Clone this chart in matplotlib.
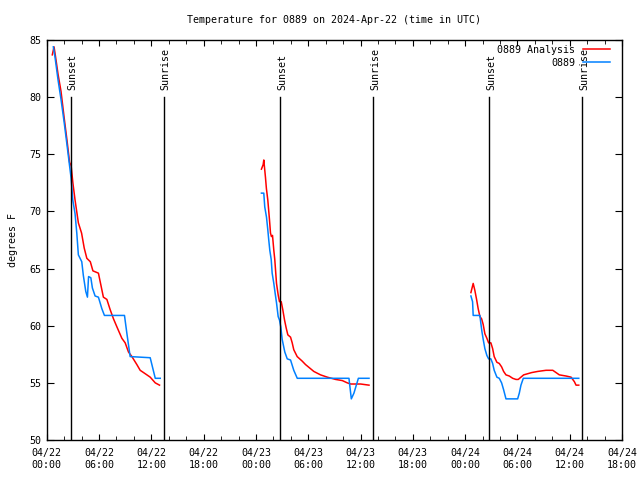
import matplotlib
matplotlib.use("Agg")
import matplotlib.pyplot as plt
from matplotlib.ticker import MultipleLocator

plt.rcParams['font.family'] = ['DejaVu Sans Mono']
plt.rcParams['font.size'] = 7.2

# times are hours after 04/22 00:00 UTC, one list per night
analysis_t = [
    [0.64, 0.84, 1.0, 1.3, 1.64, 2.0, 2.33, 2.62, 2.8, 3.0, 3.25, 3.63, 4.0, 4.3, 4.6,
     5.0, 5.3, 5.93, 6.5, 6.9, 7.28, 7.66, 8.05, 8.62, 9.0, 9.38, 9.77, 10.34, 10.72,
     11.3, 11.87, 12.45, 12.94],
    [24.63, 24.83, 24.9, 25.09, 25.2, 25.36, 25.55, 25.67, 25.78, 25.9, 26.05, 26.16,
     26.36, 26.55, 26.7, 26.9, 27.08, 27.28, 27.47, 27.66, 27.97, 28.16, 28.34, 28.73,
     29.31, 29.69, 30.64, 31.41, 32.18, 33.14, 33.91, 34.48, 34.86, 36.01, 36.97],
    [48.66, 48.92, 49.11, 49.31, 49.49, 49.69, 49.89, 50.07, 50.26, 50.49, 50.69, 50.95,
     51.15, 51.33, 51.64, 51.91, 52.18, 52.41, 52.68, 53.06, 53.45, 53.83, 54.09, 54.4,
     54.71, 55.17, 55.63, 56.32, 57.28, 58.05, 58.43, 58.8, 59.57, 60.15, 60.53, 60.72,
     61.03],
]
analysis_v = [
    [83.7, 84.4, 83.6, 82.0, 80.5, 78.2, 76.2, 74.3, 74.0, 72.5, 71.0, 69.0, 68.1, 66.8,
     65.9, 65.6, 64.8, 64.6, 62.5, 62.3, 61.4, 60.6, 59.9, 58.9, 58.5, 57.7, 57.3, 56.6,
     56.1, 55.8, 55.5, 55.0, 54.8],
    [73.7, 74.1, 74.5, 73.0, 72.0, 71.0, 69.3, 68.1, 67.8, 67.9, 66.6, 65.8, 63.7, 62.7,
     62.1, 62.1, 61.4, 60.5, 59.8, 59.2, 59.0, 58.5, 57.9, 57.3, 56.9, 56.6, 56.0, 55.7,
     55.5, 55.3, 55.2, 55.0, 54.9, 54.9, 54.8],
    [62.9, 63.7, 63.1, 62.3, 61.5, 60.8, 60.6, 60.1, 59.3, 58.9, 58.5, 58.5, 58.0, 57.3,
     56.8, 56.7, 56.4, 56.0, 55.7, 55.6, 55.4, 55.3, 55.3, 55.5, 55.7, 55.8, 55.9, 56.0,
     56.1, 56.1, 55.9, 55.7, 55.6, 55.5, 55.1, 54.8, 54.8],
]

station_t = [
    [0.76, 0.95, 1.3, 1.64, 2.0, 2.33, 2.62, 2.8, 2.99, 3.25, 3.45, 3.63, 4.02, 4.2, 4.48,
     4.67, 4.8, 5.06, 5.24, 5.55, 5.93, 6.32, 6.62, 8.92, 9.2, 9.57, 11.87, 12.45, 13.02],
    [24.63, 24.9, 25.01, 25.21, 25.36, 25.47, 25.59, 25.75, 25.86, 26.05, 26.21, 26.36,
     26.55, 26.7, 26.85, 27.01, 27.31, 27.59, 27.97, 28.34, 28.74, 34.67, 34.94, 35.24,
     35.75, 36.97],
    [48.66, 48.85, 48.92, 49.69, 49.8, 49.92, 50.07, 50.26, 50.49, 50.69, 50.95, 51.15,
     51.33, 51.64, 51.91, 52.18, 52.41, 52.68, 54.02, 54.21, 54.4, 54.67, 61.03],
]
station_v = [
    [84.4, 83.5, 81.5, 79.8, 77.8, 75.8, 74.0, 72.9, 71.0, 69.8, 68.1, 66.2, 65.6, 64.4,
     63.0, 62.5, 64.3, 64.2, 63.3, 62.6, 62.5, 61.5, 60.9, 60.9, 59.3, 57.3, 57.2, 55.4,
     55.4],
    [71.6, 71.6, 70.4, 69.5, 68.4, 67.5, 66.6, 65.8, 64.6, 63.7, 62.8, 62.0, 60.8, 60.5,
     59.9, 58.8, 57.7, 57.1, 57.0, 56.1, 55.4, 55.4, 53.6, 54.1, 55.4, 55.4],
    [62.6, 62.1, 60.9, 60.9, 60.2, 59.5, 58.8, 58.0, 57.4, 57.1, 57.1, 56.7, 56.1, 55.5,
     55.4, 55.0, 54.4, 53.6, 53.6, 54.1, 54.8, 55.4, 55.4],
]

sunset_hours = [2.74, 26.74, 50.78]
sunrise_hours = [13.4, 37.43, 61.4]

tick_labels = ['04/22\n00:00', '04/22\n06:00', '04/22\n12:00', '04/22\n18:00',
               '04/23\n00:00', '04/23\n06:00', '04/23\n12:00', '04/23\n18:00',
               '04/24\n00:00', '04/24\n06:00', '04/24\n12:00', '04/24\n18:00']

fig = plt.figure(figsize=(6.4, 4.8), dpi=100)
ax = fig.add_axes([0.073, 0.0833, 0.899, 0.8334])

# analysis first, station on top
for i in range(len(analysis_t)):
    ax.plot(analysis_t[i], analysis_v[i], color='#ff0000', lw=1.1,
            label='0889 Analysis' if i == 0 else None)
for i in range(len(station_t)):
    ax.plot(station_t[i], station_v[i], color='#0080ff', lw=1.1,
            label='0889' if i == 0 else None)

# sun lines with rotated labels
for h in sunset_hours:
    ax.plot([h, h], [50, 80], color='black', lw=1, zorder=5)
    ax.text(h + 0.25, 80.6, 'Sunset', rotation=90, ha='center', va='bottom')
for h in sunrise_hours:
    ax.plot([h, h], [50, 80], color='black', lw=1, zorder=5)
    ax.text(h + 0.25, 80.6, 'Sunrise', rotation=90, ha='center', va='bottom')

ax.set_xlim(0, 66)
ax.set_ylim(50, 85)
ax.set_xticks(range(0, 67, 6))
ax.set_xticklabels(tick_labels)
ax.xaxis.set_minor_locator(MultipleLocator(2))
ax.yaxis.set_major_locator(MultipleLocator(5))
ax.tick_params(axis='both', which='both', direction='in', top=True, right=True)
ax.tick_params(axis='x', which='major', length=4, pad=6)
ax.tick_params(axis='x', which='minor', length=3)
ax.tick_params(axis='y', which='major', length=5, pad=4)
for s in ax.spines.values():
    s.set_linewidth(1)

ax.set_ylabel('degrees F', labelpad=8)
ax.set_title('Temperature for 0889 on 2024-Apr-22 (time in UTC)', fontsize=7.2, pad=12)

ax.legend(loc='upper right', bbox_to_anchor=(0.979, 0.988), frameon=False,
          markerfirst=False, handlelength=2.7, borderaxespad=0, borderpad=0,
          labelspacing=0.3, handletextpad=0.8)

fig.savefig('out.png', dpi=100)
